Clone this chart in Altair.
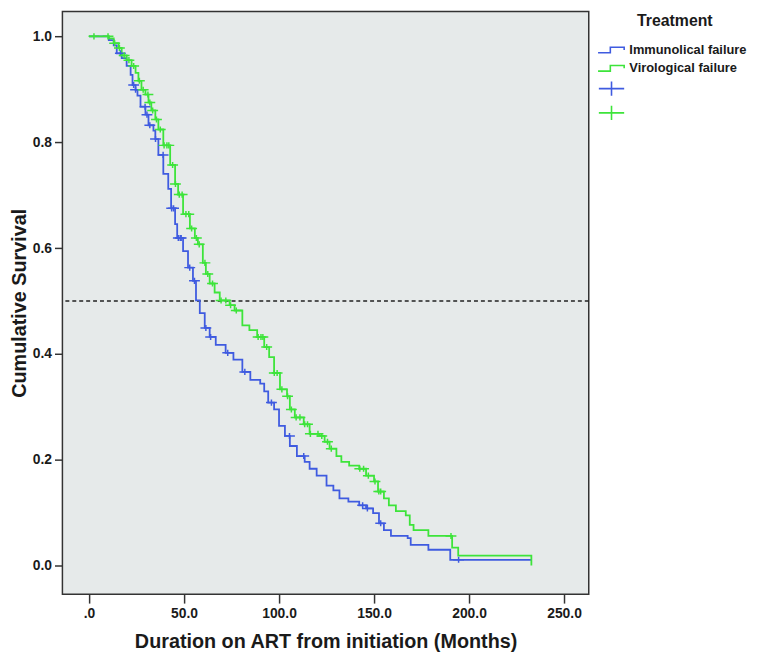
import altair as alt
import pandas as pd

IMM = "Immunolical failure"
VIR = "Virological failure"
IMM_C = "Immunolical failure (censored)"
VIR_C = "Virological failure (censored)"

BLUE = "#3f5be0"
GREEN = "#3de43a"

# Kaplan-Meier step points (months, cumulative survival)
imm_time = [0, 10.4, 13.0, 14.6, 17.2, 19.8, 21.9, 22.9, 24.5, 25.5, 27.1, 29.7, 31.3, 33.9,
            34.9, 36.5, 39.1, 41.7, 43.2, 45.3, 46.4, 49.5, 52.1, 54.7, 56.3, 58.3, 60.9,
            63.5, 66.7, 71.9, 76.0, 80.7, 84.9, 90.1, 92.2, 94.3, 97.4, 100.0, 103.1, 105.7,
            109.4, 113.5, 116.1, 119.8, 125.0, 128.6, 131.8, 136.5, 142.2, 145.8, 149.5,
            152.6, 155.2, 158.9, 167.7, 169.3, 178.6, 190.1, 232.8]
imm_surv = [1.000, 0.993, 0.983, 0.968, 0.959, 0.944, 0.927, 0.908, 0.899, 0.888, 0.867,
            0.852, 0.832, 0.822, 0.806, 0.776, 0.740, 0.712, 0.675, 0.645, 0.619, 0.594,
            0.563, 0.538, 0.501, 0.477, 0.449, 0.432, 0.417, 0.402, 0.389, 0.366, 0.351,
            0.344, 0.329, 0.308, 0.295, 0.264, 0.245, 0.226, 0.207, 0.196, 0.183, 0.170,
            0.151, 0.142, 0.127, 0.121, 0.114, 0.108, 0.099, 0.080, 0.067, 0.056, 0.052,
            0.039, 0.030, 0.011, 0.011]

vir_time = [0, 10.4, 13.0, 15.6, 17.2, 19.8, 22.4, 24.5, 26.0, 27.6, 29.7, 31.3, 32.8, 34.9,
            36.5, 39.1, 42.7, 45.3, 46.9, 49.5, 53.1, 55.7, 57.3, 59.9, 61.5, 63.5, 66.1,
            68.8, 74.0, 76.6, 80.7, 84.4, 88.5, 92.2, 94.8, 97.4, 100.5, 104.2, 105.7, 108.3,
            113.0, 116.1, 121.4, 124.0, 126.6, 130.2, 132.8, 136.9, 142.2, 145.8, 150.0,
            152.1, 155.2, 157.8, 161.5, 166.7, 168.8, 170.8, 178.6, 191.1, 194.3, 232.8]
vir_surv = [1.000, 0.996, 0.987, 0.978, 0.964, 0.955, 0.944, 0.931, 0.916, 0.899, 0.890,
            0.875, 0.860, 0.843, 0.824, 0.794, 0.757, 0.721, 0.701, 0.664, 0.637, 0.619,
            0.607, 0.572, 0.551, 0.533, 0.516, 0.501, 0.492, 0.482, 0.454, 0.445, 0.432,
            0.413, 0.394, 0.364, 0.333, 0.320, 0.295, 0.280, 0.267, 0.249, 0.245, 0.234,
            0.221, 0.207, 0.196, 0.189, 0.183, 0.170, 0.159, 0.140, 0.127, 0.114, 0.103,
            0.095, 0.077, 0.067, 0.056, 0.034, 0.019, 0.000]

# Censoring times (months)
imm_censor = [16.5, 23.5, 24.5, 29.5, 30.5, 32.0, 35.0, 39.0, 43.5, 44.5, 47.0, 48.0, 48.5,
              53.0, 55.5, 61.5, 64.0, 73.0, 82.0, 96.0, 105.5, 113.0, 144.0, 146.5, 153.5,
              194.5]
vir_censor = [2.6, 10.0, 13.5, 16.0, 18.5, 21.0, 23.5, 26.5, 28.5, 31.0, 32.0, 33.5, 35.5,
              37.5, 39.5, 41.0, 42.0, 44.0, 45.5, 47.5, 49.0, 51.0, 52.5, 54.0, 56.5, 58.0,
              61.0, 62.5, 65.0, 69.5, 72.0, 74.5, 77.5, 89.0, 90.5, 91.5, 93.5, 97.5, 99.0,
              101.5, 104.5, 106.5, 109.0, 111.0, 113.5, 115.0, 116.5, 120.5, 122.5, 125.5,
              127.5, 142.5, 144.5, 147.0, 150.5, 152.5, 153.5, 190.5]

x_ticks = [0, 50, 100, 150, 200, 250]
y_ticks = [0.0, 0.2, 0.4, 0.6, 0.8, 1.0]
median_line = [0.5]


def surv_at(times, survs, c):
    s = survs[0]
    for t, v in zip(times, survs):
        if t <= c:
            s = v
        else:
            break
    return s


lines = pd.concat([
    pd.DataFrame({"time": imm_time, "surv": imm_surv, "key": IMM}),
    pd.DataFrame({"time": vir_time, "surv": vir_surv, "key": VIR}),
])
cens = pd.concat([
    pd.DataFrame({"time": imm_censor,
                  "surv": [surv_at(imm_time, imm_surv, c) for c in imm_censor],
                  "key": IMM_C}),
    pd.DataFrame({"time": vir_censor,
                  "surv": [surv_at(vir_time, vir_surv, c) for c in vir_censor],
                  "key": VIR_C}),
])

STEP = "M-1.7,0.35H-0.15V-0.35H1.6V0"
PLUS = "M-1.6,0H1.6M0,-0.9V0.9"

domain = [IMM, VIR, IMM_C, VIR_C]
color_scale = alt.Scale(domain=domain, range=[BLUE, GREEN, BLUE, GREEN])
shape_scale = alt.Scale(domain=domain, range=[STEP, STEP, PLUS, PLUS])
stroke_scale = alt.Scale(domain=[IMM, VIR], range=[BLUE, GREEN])

FONT = "Liberation Sans"

x_enc = alt.X("time:Q",
              scale=alt.Scale(domain=[-14, 263], nice=False, zero=False),
              axis=alt.Axis(values=x_ticks,
                            labelExpr="datum.value == 0 ? '.0' : format(datum.value, '.1f')",
                            title="Duration on ART from initiation (Months)",
                            grid=False, domain=False, tickSize=9, labelPadding=4,
                            titlePadding=11))
y_enc = alt.Y("surv:Q",
              scale=alt.Scale(domain=[-0.054, 1.047], nice=False, zero=False),
              axis=alt.Axis(values=y_ticks, format=".1f", title="Cumulative Survival",
                            grid=False, domain=False, tickSize=8, labelPadding=3,
                            titlePadding=3))

legend = alt.Legend(title="Treatment",
                    labelExpr="indexof(datum.label, 'censored') >= 0 ? '' : datum.label",
                    orient="none", legendX=546, legendY=2,
                    symbolSize=256, symbolStrokeWidth=1.6, symbolFillColor="transparent",
                    titleAnchor="middle", titleFontSize=16, titleFont=FONT,
                    titleFontWeight="bold", titleColor="#1a1a1a", titlePadding=12,
                    labelFont=FONT, labelFontSize=13, labelFontWeight="bold",
                    labelColor="#1a1a1a", labelOffset=9, rowPadding=2.5, padding=0)

rule = alt.Chart(pd.DataFrame({"y": median_line})).mark_rule(
    strokeDash=[4, 3], color="#222222", strokeWidth=1.5
).encode(y="y:Q")

line_layer = alt.Chart(lines).mark_line(interpolate="step-after", strokeWidth=1.8).encode(
    x=x_enc, y=y_enc,
    stroke=alt.Stroke("key:N", scale=stroke_scale, legend=None),
)

point_layer = alt.Chart(cens).mark_point(filled=False, strokeWidth=1.5, size=47, opacity=1).encode(
    x=x_enc, y=y_enc,
    color=alt.Color("key:N", scale=color_scale, legend=legend),
    shape=alt.Shape("key:N", scale=shape_scale, legend=legend),
)

chart = alt.layer(rule, line_layer, point_layer).properties(
    width=532, height=589,
    autosize=alt.AutoSizeParams(type="none"),
    padding={"left": 55, "top": 0, "right": 165, "bottom": 62},
).configure_view(
    fill="#e6eaea", stroke="#333333", strokeWidth=1.5
).configure_axis(
    labelFont=FONT, labelFontSize=14, labelFontWeight="bold", labelColor="#1a1a1a",
    titleFont=FONT, titleFontSize=20, titleFontWeight="bold", titleColor="#1a1a1a",
    tickColor="#333333", tickWidth=1.5,
)

chart.save("out.html", embed_options={"renderer": "svg", "actions": False})
